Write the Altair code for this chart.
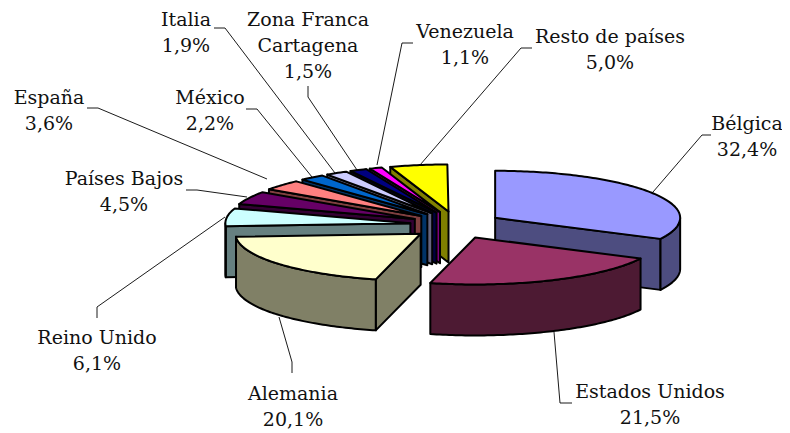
import math
import altair as alt
import pandas as pd

# --- chart values ---------------------------------------------------------
names = ["Bélgica", "Estados Unidos", "Alemania", "Reino Unido", "Países Bajos", "España",
         "México", "Italia", "Zona Franca Cartagena", "Venezuela", "Resto de países"]
shares = [32.4, 21.5, 20.1, 6.1, 4.5, 3.6, 2.2, 1.9, 1.5, 1.1, 5.0]
top_colors = ["#9999FF", "#993366", "#FFFFCC", "#CCFFFF", "#660066", "#FF8080",
              "#0066CC", "#CCCCFF", "#000080", "#FF00FF", "#FFFF00"]
side_colors = ["#4D4D80", "#4D1A33", "#808066", "#668080", "#330033", "#804040",
               "#003366", "#666680", "#000040", "#800080", "#808000"]

# label lines: one row per line of text (centre x, baseline y in picture pixels)
label_lines = [["Bélgica"], ["Estados Unidos"], ["Alemania"], ["Reino Unido"], ["Países Bajos"],
               ["España"], ["México"], ["Italia"], ["Zona Franca", "Cartagena"], ["Venezuela"],
               ["Resto de países"]]
label_x = [747, 650, 293, 97, 124, 49, 210, 186, 308, 465, 610]
label_y = [130, 398, 400, 344, 185, 104, 104, 25.5, 25.5, 38, 43]
line_step = 26

leaders = [
    [(711, 135), (702, 135), (653, 192)],
    [(572, 403), (560, 403), (554, 332)],
    [(292, 373), (292, 362), (279, 317)],
    [(97, 318), (97, 307), (225, 217)],
    [(186, 190), (197, 190), (247, 197)],
    [(87, 108), (98, 108), (267, 179)],
    [(246, 109), (257, 109), (312, 177)],
    [(214, 28), (225, 28), (335, 173)],
    [(308, 86), (308, 97), (357, 170)],
    [(413, 43), (402, 43), (377, 165)],
    [(532, 48), (521, 48), (420, 165)],
]

# pie layout
CX, CY = 456, 225      # pie centre
RX, RY = 185, 47       # ellipse radii
DEPTH = 51             # wall height
EXPLODE_X, EXPLODE_Y = 46, 13.7


def point(apex, deg, drop=0.0):
    t = math.radians(deg)
    return [apex[0] + RX * math.sin(t), apex[1] - RY * math.cos(t) + drop]


def arc(apex, a, b, drop=0.0):
    n = max(2, int(abs(b - a)) + 2)
    return [point(apex, a + (b - a) * i / (n - 1), drop) for i in range(n)]


def feature(coords, fill):
    ring = [list(p) for p in coords]
    ring.append(list(ring[0]))
    return {"type": "Feature", "properties": {"fill": fill},
            "geometry": {"type": "Polygon", "coordinates": [ring]}}


slices = []
start = 0.0
for i, s in enumerate(shares):
    end = start + s * 3.6
    slices.append((i, start, end, (start + end) / 2))
    start = end

faces = []
for i, a, b, mid in sorted(slices, key=lambda r: -math.cos(math.radians(r[3]))):
    t = math.radians(mid)
    apex = (CX + EXPLODE_X * math.sin(t), CY - EXPLODE_Y * math.cos(t))
    side = side_colors[i]
    low = (apex[0], apex[1] + DEPTH)
    # radial walls facing the viewer
    if a > 180:
        faces.append(feature([apex, point(apex, a), point(apex, a, DEPTH), low], side))
    if b < 180:
        faces.append(feature([apex, point(apex, b), point(apex, b, DEPTH), low], side))
    # outer wall
    w0, w1 = max(a, 90), min(b, 270)
    if w1 > w0:
        faces.append(feature(arc(apex, w0, w1) + arc(apex, w1, w0, DEPTH), side))
    # top face
    faces.append(feature([apex] + arc(apex, a, b), top_colors[i]))

leader_features = [
    {"type": "Feature", "properties": {},
     "geometry": {"type": "LineString", "coordinates": [list(p) for p in pts]}}
    for pts in leaders
]

rows = []
for i, lines in enumerate(label_lines):
    texts = lines + [f"{shares[i]:.1f}".replace(".", ",") + "%"]
    for k, t in enumerate(texts):
        y = label_y[i] + k * line_step
        rows.append({"x": label_x[i] - 8, "y": y - 8, "t": t})
labels = pd.DataFrame(rows)

proj = dict(type="identity", scale=1, translate=[-8, -8])

leader_layer = alt.Chart(alt.Data(values=leader_features)).mark_geoshape(
    filled=False, stroke="#000000", strokeWidth=0.9
).project(**proj)

face_layer = alt.Chart(alt.Data(values=faces)).mark_geoshape(
    stroke="#000000", strokeWidth=2, strokeJoin="round"
).encode(fill=alt.Color("properties.fill:N", scale=None, legend=None)).project(**proj)

text_layer = alt.Chart(labels).mark_text(
    font="DejaVu Serif", fontSize=19, color="#111111", align="center", baseline="alphabetic"
).encode(
    x=alt.X("x:Q", scale=None, axis=None),
    y=alt.Y("y:Q", scale=None, axis=None),
    text="t:N",
)

chart = alt.layer(leader_layer, face_layer, text_layer).properties(
    width=774, height=425, padding=0, background="#FFFFFF",
    autosize=alt.AutoSizeParams(type="none")
).configure_view(stroke=None)

chart.save("out.html", embed_options={"renderer": "svg", "actions": False})
